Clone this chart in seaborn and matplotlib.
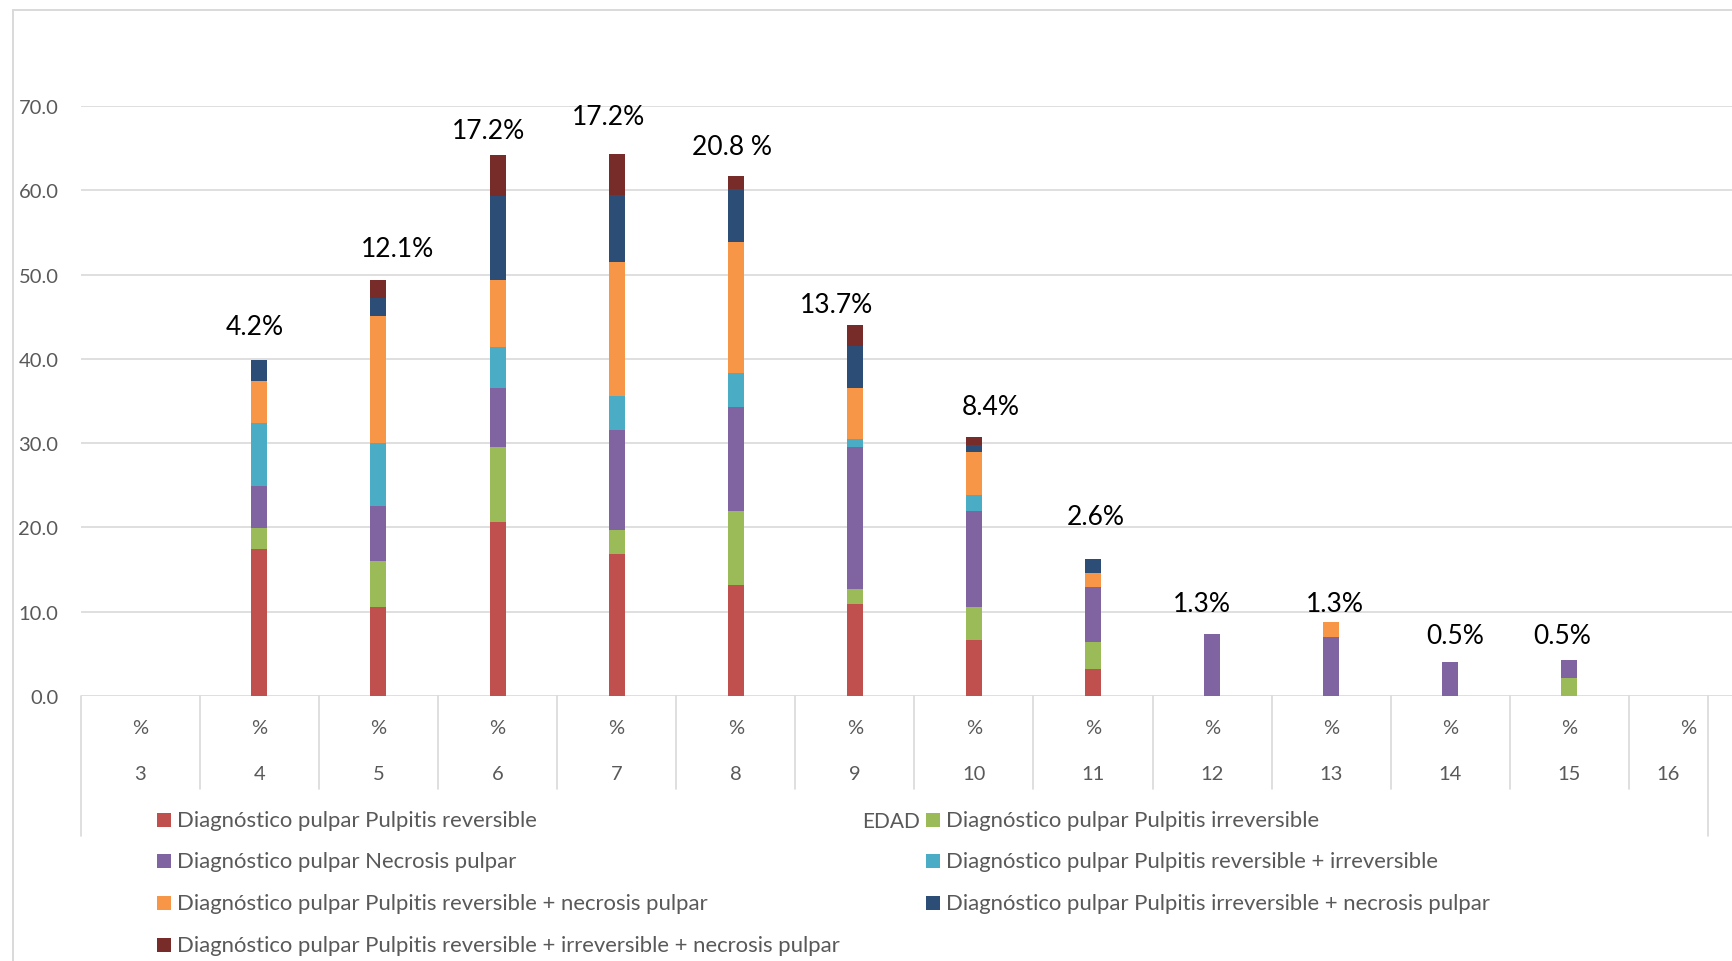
import matplotlib.pyplot as plt
import matplotlib.lines as mlines
import matplotlib.patches as mpatches
import matplotlib.transforms as mtransforms
import pandas as pd
import seaborn as sns

ages = [3, 4, 5, 6, 7, 8, 9, 10, 11, 12, 13, 14, 15, 16]
series_names = [
    "Diagnóstico pulpar Pulpitis reversible",
    "Diagnóstico pulpar Pulpitis irreversible",
    "Diagnóstico pulpar Necrosis pulpar",
    "Diagnóstico pulpar Pulpitis reversible + irreversible",
    "Diagnóstico pulpar Pulpitis reversible + necrosis pulpar",
    "Diagnóstico pulpar Pulpitis irreversible + necrosis pulpar",
    "Diagnóstico pulpar Pulpitis reversible + irreversible + necrosis pulpar",
]
reversible = [0, 17.4, 10.6, 20.7, 16.8, 13.2, 10.9, 6.7, 3.2, 0, 0, 0, 0, 0]
irreversible = [0, 2.5, 5.4, 8.9, 2.9, 8.7, 1.8, 3.9, 3.2, 0, 0, 0, 2.1, 0]
necrosis = [0, 5.0, 6.5, 6.9, 11.9, 12.4, 16.9, 11.4, 6.5, 7.35, 7.0, 4.0, 2.2, 0]
rev_irr = [0, 7.5, 7.5, 4.9, 4.0, 4.0, 0.9, 1.9, 0, 0, 0, 0, 0, 0]
rev_nec = [0, 5.0, 15.1, 8.0, 15.9, 15.6, 6.0, 5.0, 1.7, 0, 1.8, 0, 0, 0]
irr_nec = [0, 2.5, 2.1, 9.9, 7.9, 6.2, 5.0, 0.9, 1.6, 0, 0, 0, 0, 0]
rev_irr_nec = [0, 0, 2.1, 4.9, 4.9, 1.6, 2.5, 0.9, 0, 0, 0, 0, 0, 0]
pct_labels = ["", "4.2%", "12.1%", "17.2%", "17.2%", "20.8 %", "13.7%",
              "8.4%", "2.6%", "1.3%", "1.3%", "0.5%", "0.5%", ""]
yticks = [0, 10, 20, 30, 40, 50, 60, 70]

colors = ["#C0504D", "#9BBB59", "#8064A2", "#4BACC6",
          "#F79646", "#2C4D75", "#772C2A"]
# label nudges (x in categories, y in data units), the labels sit by hand in the original
label_dx = [0, -0.04, 0.16, -0.08, -0.07, -0.03, -0.15, 0.14, 0.02, -0.09, 0.03, 0.04, -0.06, 0]
label_dy = [0, 3.9, 3.8, 2.9, 4.4, 3.5, 2.4, 3.7, 5.1, 3.6, 2.2, 3.2, 2.9, 0]

W, H = 1733, 962
GRID = "#D9D9D9"
GREY = "#595959"


def build_frame():
    all_series = [reversible, irreversible, necrosis, rev_irr,
                  rev_nec, irr_nec, rev_irr_nec]
    rows = []
    for name, values in zip(series_names, all_series):
        for age, v in zip(ages, values):
            rows.append({"edad": age, "serie": name, "valor": v})
    totals = [sum(col) for col in zip(*all_series)]
    return pd.DataFrame(rows), totals


def plot_data(df, totals):
    sns.set_style("white")
    plt.rcParams["font.family"] = ["Lato", "DejaVu Sans"]

    fig = plt.figure(figsize=(W / 100, H / 100), dpi=100)
    left_px, cat_px = 80.7, 119.1
    top_px, base_px = 107, 697
    ax = fig.add_axes([left_px / W, (H - base_px) / H,
                       len(ages) * cat_px / W, (base_px - top_px) / H])

    sns.histplot(data=df, x="edad", hue="serie", weights="valor",
                 multiple="stack", discrete=True, shrink=0.134,
                 hue_order=series_names[::-1],
                 palette=dict(zip(series_names, colors)),
                 alpha=1, linewidth=0, legend=False, ax=ax)

    ax.set_xlim(ages[0] - 0.5, ages[-1] + 0.5)
    ax.set_ylim(0, 70)
    ax.set_xlabel("")
    ax.set_ylabel("")
    ax.set_xticks([])
    ax.set_yticks(yticks)
    ax.set_yticklabels([f"{v:.1f}" for v in yticks], color=GREY, fontsize=14.5)
    ax.tick_params(axis="y", length=0, pad=16)
    ax.yaxis.grid(True, color=GRID, linewidth=1.2)
    ax.set_axisbelow(True)
    for s in ax.spines.values():
        s.set_visible(False)

    for i, age in enumerate(ages):
        if pct_labels[i]:
            ax.text(age + label_dx[i], totals[i] + label_dy[i], pct_labels[i],
                    ha="center", va="center", fontsize=19, color="black")

    # two-row category axis with box lines
    blend = mtransforms.blended_transform_factory(ax.transData, fig.transFigure)
    x_right = ages[0] - 0.5 + (1708 - left_px) / cat_px
    for age in ages:
        # the last box is cut short by the chart edge, its number sits in the visible part
        num_x = age if age != ages[-1] else (age - 0.5 + x_right) / 2
        ax.text(age, 1 - 729 / H, "%", transform=blend, ha="center",
                va="center", fontsize=14.5, color=GREY)
        ax.text(num_x, 1 - 775 / H, str(age), transform=blend, ha="center",
                va="center", fontsize=14.5, color=GREY)
    for k in range(len(ages)):
        x = ages[0] - 0.5 + k
        y_end = 837 if k == 0 else 790
        fig.add_artist(mlines.Line2D([x, x], [1 - base_px / H, 1 - y_end / H],
                                     transform=blend, color=GRID, lw=1.2))
    fig.add_artist(mlines.Line2D([x_right, x_right], [1 - base_px / H, 1 - 837 / H],
                                 transform=blend, color=GRID, lw=1.2))
    fig.text(920 / W, 1 - 822 / H, "EDAD", ha="right", va="center",
             fontsize=15, color=GREY)

    # legend, two columns like the original
    row_y = [821, 862, 904, 946]
    slots = [(157, row_y[0]), (926, row_y[0]), (157, row_y[1]), (926, row_y[1]),
             (157, row_y[2]), (926, row_y[2]), (157, row_y[3])]
    for (mx, my), name, c in zip(slots, series_names, colors):
        fig.add_artist(mpatches.Rectangle((mx / W, 1 - (my + 7) / H), 14 / W, 14 / H,
                                          transform=fig.transFigure,
                                          facecolor=c, edgecolor="none"))
        fig.text((mx + 20) / W, 1 - my / H, name, ha="left", va="center",
                 fontsize=15.9, color=GREY)

    # outer chart border
    bx, by = 12.6, 11
    fig.add_artist(mlines.Line2D([bx / W, bx / W], [0, 1 - by / H],
                                 transform=fig.transFigure, color=GRID, lw=1.4))
    fig.add_artist(mlines.Line2D([bx / W, 1], [1 - by / H, 1 - by / H],
                                 transform=fig.transFigure, color=GRID, lw=1.4))

    fig.savefig("out.png", dpi=100, facecolor="white")


def main():
    df, totals = build_frame()
    plot_data(df, totals)


if __name__ == "__main__":
    main()
